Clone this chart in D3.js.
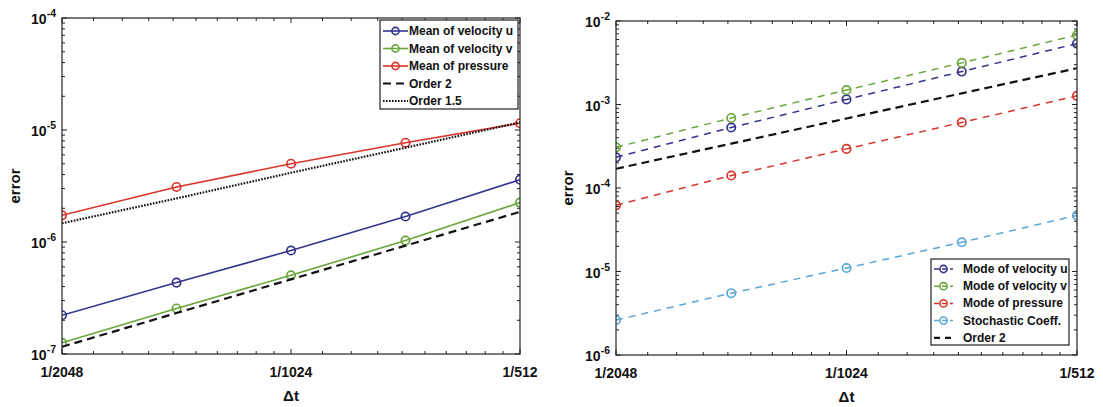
<!DOCTYPE html>
<html><head><meta charset="utf-8">
<script src="https://cdn.jsdelivr.net/npm/d3@7"></script>
<style>
body{margin:0;background:#fff;}
text{font-family:"Liberation Sans",Arial,sans-serif;fill:#111;}
</style></head>
<body><svg id="c" width="1103" height="407"></svg>
<script>
// ---- data ----
const dt = [1/2048, 1/1448.15, 1/1024, 1/724.08, 1/512];
const xTickVals = [1/2048, 1/1024, 1/512];
const xTickLabels = ["1/2048", "1/1024", "1/512"];

const meanU   = [2.22e-7, 4.34e-7, 8.4e-7, 1.69e-6, 3.6e-6];
const meanV   = [1.26e-7, 2.55e-7, 5.05e-7, 1.03e-6, 2.25e-6];
const meanP   = [1.73e-6, 3.1e-6, 5.0e-6, 7.7e-6, 1.15e-5];
const order2L = [1.16e-7, 2.32e-7, 4.64e-7, 9.28e-7, 1.86e-6];
const order15L= [1.47e-6, 2.45e-6, 4.15e-6, 6.95e-6, 1.17e-5];

const modeU   = [2.33e-4, 5.3e-4, 1.15e-3, 2.48e-3, 5.36e-3];
const modeV   = [3.07e-4, 6.9e-4, 1.49e-3, 3.15e-3, 6.8e-3];
const modeP   = [6.2e-5, 1.41e-4, 2.94e-4, 6.1e-4, 1.27e-3];
const stoch   = [2.62e-6, 5.5e-6, 1.1e-5, 2.24e-5, 4.7e-5];
const order2R = [1.7e-4, 3.4e-4, 6.8e-4, 1.36e-3, 2.72e-3];

const leftExp = [-7, -6, -5, -4];
const rightExp = [-6, -5, -4, -3, -2];

const C = {blue:"#34348f", green:"#6aa63a", red:"#d9352b", lblue:"#5aa6d6", black:"#111"};

const svg = d3.select("#c");

function panel(opt){
  const g = svg.append("g");
  const x = d3.scaleLog().base(2).domain([1/2048, 1/512]).range([opt.x0, opt.x1]);
  const y = d3.scaleLog().domain([Math.pow(10,opt.exps[0]), Math.pow(10,opt.exps[opt.exps.length-1])]).range([opt.y1, opt.y0]);

  const minorX = [];
  [1/2048, 1/1024].forEach(b => { for(let n=1;n<=9;n++) minorX.push(b*(1+0.1*n)); });
  const minorY = [];
  for(let i=0;i<opt.exps.length-1;i++){ for(let m=2;m<=9;m++) minorY.push(m*Math.pow(10,opt.exps[i])); }

  const tk = g.append("g").attr("stroke","#222").attr("stroke-width",1);
  minorX.forEach(v => {
    tk.append("line").attr("x1",x(v)).attr("x2",x(v)).attr("y1",opt.y1).attr("y2",opt.y1-3);
    tk.append("line").attr("x1",x(v)).attr("x2",x(v)).attr("y1",opt.y0).attr("y2",opt.y0+3);
  });
  xTickVals.forEach(v => {
    tk.append("line").attr("x1",x(v)).attr("x2",x(v)).attr("y1",opt.y1).attr("y2",opt.y1-5);
    tk.append("line").attr("x1",x(v)).attr("x2",x(v)).attr("y1",opt.y0).attr("y2",opt.y0+5);
  });
  minorY.forEach(v => {
    tk.append("line").attr("x1",opt.x0).attr("x2",opt.x0+3).attr("y1",y(v)).attr("y2",y(v));
    tk.append("line").attr("x1",opt.x1).attr("x2",opt.x1-3).attr("y1",y(v)).attr("y2",y(v));
  });
  opt.exps.forEach(e => {
    const v = Math.pow(10,e);
    tk.append("line").attr("x1",opt.x0).attr("x2",opt.x0+5).attr("y1",y(v)).attr("y2",y(v));
    tk.append("line").attr("x1",opt.x1).attr("x2",opt.x1-5).attr("y1",y(v)).attr("y2",y(v));
  });

  opt.exps.forEach(e => {
    const t = g.append("text").attr("x", opt.x0-6).attr("y", y(Math.pow(10,e))+6)
      .attr("text-anchor","end").attr("font-size",14).attr("font-weight","bold");
    t.append("tspan").text("10");
    t.append("tspan").attr("dy",-7).attr("font-size",10.5).text(String(e));
  });
  xTickVals.forEach((v,i) => {
    g.append("text").attr("x", x(v)).attr("y", opt.y1+23).attr("text-anchor","middle")
      .attr("font-size",14).attr("font-weight","bold").text(xTickLabels[i]);
  });
  g.append("text").attr("x",(opt.x0+opt.x1)/2).attr("y",opt.y1+47).attr("text-anchor","middle")
    .attr("font-size",15).attr("font-weight","bold").text("Δt");
  g.append("text").attr("transform",`translate(${opt.ylabX},${(opt.y0+opt.y1)/2}) rotate(-90)`)
    .attr("text-anchor","middle").attr("font-size",15).attr("font-weight","bold").text("error");

  const line = d3.line().x((d,i)=>x(dt[i])).y(d=>y(d));
  const clip = "clip"+opt.id;
  g.append("clipPath").attr("id",clip).append("rect")
    .attr("x",opt.x0).attr("y",opt.y0).attr("width",opt.x1-opt.x0).attr("height",opt.y1-opt.y0);
  const sg = g.append("g").attr("clip-path",`url(#${clip})`);
  opt.series.forEach(s => {
    sg.append("path").attr("d", line(s.data)).attr("fill","none").attr("stroke",s.color)
      .attr("stroke-width",s.w).attr("stroke-dasharray",s.dash||null);
    if(s.marker){
      sg.selectAll(null).data(s.data).enter().append("circle")
        .attr("cx",(d,i)=>x(dt[i])).attr("cy",d=>y(d)).attr("r",4.2)
        .attr("fill","none").attr("stroke",s.color).attr("stroke-width",1.7);
    }
  });

  g.append("rect").attr("x",opt.x0).attr("y",opt.y0).attr("width",opt.x1-opt.x0).attr("height",opt.y1-opt.y0)
    .attr("fill","none").attr("stroke","#222").attr("stroke-width",1.2);

  const L = opt.legend;
  const lg = g.append("g");
  lg.append("rect").attr("x",L.x).attr("y",L.y).attr("width",L.w).attr("height",L.h)
    .attr("fill","#fff").attr("stroke","#222").attr("stroke-width",1.2);
  opt.series.forEach((s,i) => {
    const cy = L.y + L.pad + i*L.row;
    lg.append("line").attr("x1",L.x+3).attr("x2",L.x+3+L.lw).attr("y1",cy).attr("y2",cy)
      .attr("stroke",s.color).attr("stroke-width",s.w)
      .attr("stroke-dasharray", s.ldash || s.dash || null);
    if(s.marker) lg.append("circle").attr("cx",L.x+3+L.lw/2).attr("cy",cy).attr("r",3.6)
      .attr("fill","none").attr("stroke",s.color).attr("stroke-width",1.6);
    lg.append("text").attr("x",L.x+L.tx).attr("y",cy+4).attr("font-size",L.fs)
      .attr("font-weight","bold").text(s.name);
  });
}

panel({
  id:"L", x0:62, x1:520, y0:18, y1:354, exps:leftExp, ylabX:20,
  series:[
    {name:"Mean of velocity u", data:meanU, color:C.blue, w:1.6, marker:true},
    {name:"Mean of velocity v", data:meanV, color:C.green, w:1.6, marker:true},
    {name:"Mean of pressure", data:meanP, color:C.red, w:1.6, marker:true},
    {name:"Order 2", data:order2L, color:C.black, w:2.2, dash:"8,5"},
    {name:"Order 1.5", data:order15L, color:C.black, w:2.2, dash:"1.6,1.4"}
  ],
  legend:{x:380, y:20, w:138, h:89, pad:11, row:17.5, lw:25, tx:29, fs:12}
});

panel({
  id:"R", x0:616, x1:1077, y0:21, y1:355, exps:rightExp, ylabX:573,
  series:[
    {name:"Mode of velocity u", data:modeU, color:C.blue, w:1.5, marker:true, dash:"7,6", ldash:"5,3"},
    {name:"Mode of velocity v", data:modeV, color:C.green, w:1.5, marker:true, dash:"7,6", ldash:"5,3"},
    {name:"Mode of pressure", data:modeP, color:C.red, w:1.5, marker:true, dash:"7,6", ldash:"5,3"},
    {name:"Stochastic Coeff.", data:stoch, color:C.lblue, w:1.5, marker:true, dash:"7,6", ldash:"5,3"},
    {name:"Order 2", data:order2R, color:C.black, w:2.2, dash:"8,5", ldash:"6,5"}
  ],
  legend:{x:931, y:259, w:138, h:86, pad:10, row:17.2, lw:19, tx:32, fs:12}
});
</script></body></html>
